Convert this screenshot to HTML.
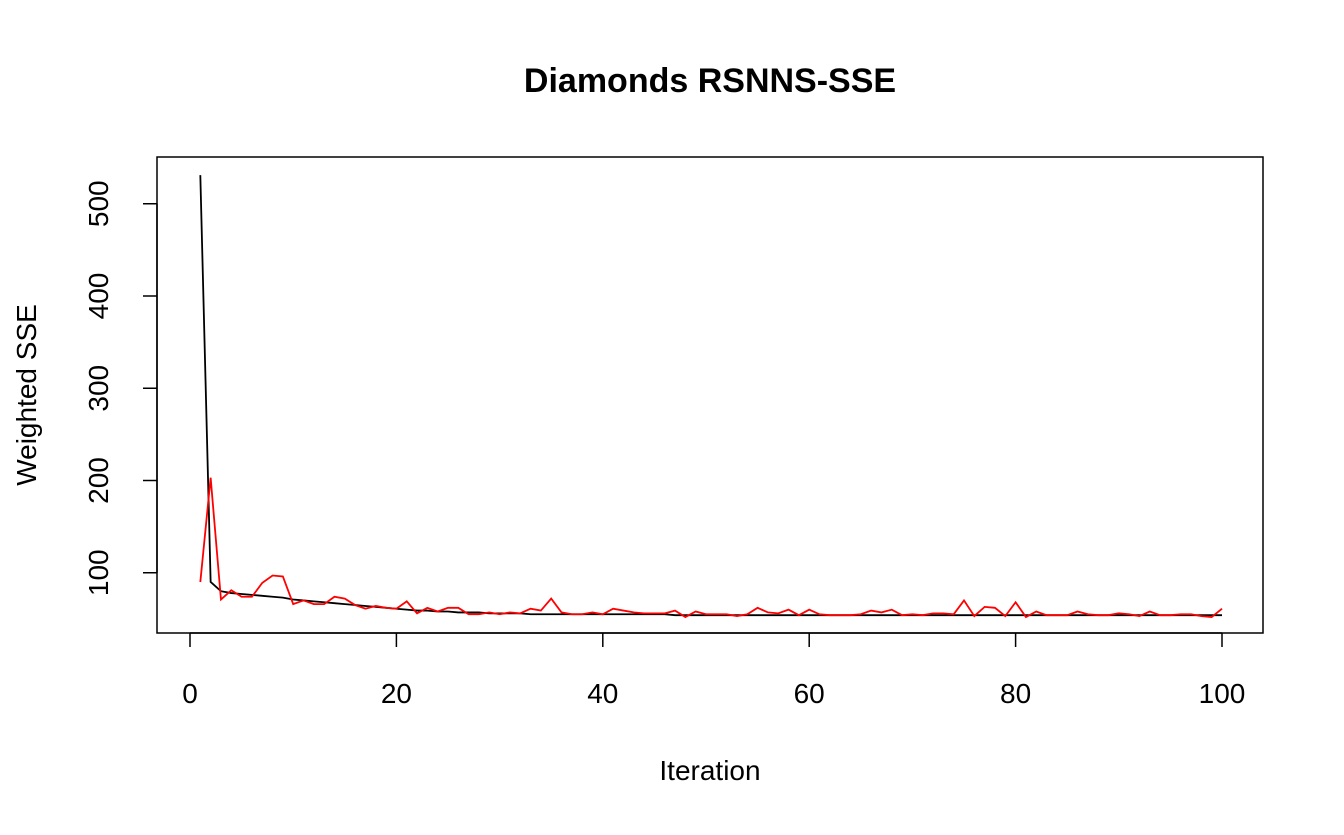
<!DOCTYPE html>
<html><head><meta charset="utf-8"><style>
body{margin:0;background:#fff;}
svg text{font-family:"Liberation Sans",sans-serif;}
</style></head><body>
<svg id="chart" width="1344" height="830" xmlns="http://www.w3.org/2000/svg">
<text x="710" y="92" text-anchor="middle" font-size="34" font-weight="bold">Diamonds RSNNS-SSE</text>
<rect x="157" y="157" width="1106" height="476" fill="none" stroke="#000" stroke-width="1.5"/>
<text x="710" y="780" text-anchor="middle" font-size="28">Iteration</text>
<text transform="translate(36,395) rotate(-90)" text-anchor="middle" font-size="28">Weighted SSE</text>
<g id="axes"></g>
<g id="series"></g>
</svg>
<script>
const xTicks=[0,20,40,60,80,100];
const yTicks=[100,200,300,400,500];
const trainSSE=[531,90,80,78,77,76,75,74,73,71,70,69,68,67,66,65,64,63,62,61,60,59,59,58,58,57,57,57,56,56,56,56,55,55,55,55,55,55,55,55,55,55,55,55,55,55,54,54,54,54,54,54,54,54,54,54,54,54,54,54,54,54,54,54,54,54,54,54,54,54,54,54,54,54,54,54,54,54,54,54,54,54,54,54,54,54,54,54,54,54,54,54,54,54,54,54,54,54,54,54];
const testSSE=[90,203,71,81,74,74,89,97,96,66,70,66,66,74,72,65,61,64,62,61,69,56,62,58,62,62,55,55,57,55,57,56,61,59,72,57,55,55,57,55,61,59,57,56,56,56,59,52,58,55,55,55,53,55,62,57,56,60,54,60,55,54,54,54,55,59,57,60,54,55,54,56,56,55,70,53,63,62,53,68,52,58,54,54,54,58,55,54,54,56,55,53,58,54,54,55,55,53,52,61];
const NS="http://www.w3.org/2000/svg";
const xs=v=>190+v*10.32;
const ys=v=>665-v*0.9225;
const axes=document.getElementById('axes');
function mk(tag,attrs,parent){const e=document.createElementNS(NS,tag);for(const k in attrs)e.setAttribute(k,attrs[k]);parent.appendChild(e);return e;}
let xl=mk('line',{x1:xs(0),x2:xs(100),y1:633,y2:633,stroke:'#000','stroke-width':1.5},axes);


xTicks.forEach(t=>{
 const l=mk('line',{x1:xs(t),x2:xs(t),y1:633,y2:647,stroke:'#000','stroke-width':1.5},axes);
 
 
 const tx=mk('text',{x:xs(t),y:703,'text-anchor':'middle','font-size':28},axes);
 tx.textContent=t;
 
 
});
let yl=mk('line',{x1:157,x2:157,y1:ys(100),y2:ys(500),stroke:'#000','stroke-width':1.5},axes);


yTicks.forEach(t=>{
 const l=mk('line',{x1:143,x2:157,y1:ys(t),y2:ys(t),stroke:'#000','stroke-width':1.5},axes);
 
 
 const tx=mk('text',{transform:`translate(108,${ys(t)}) rotate(-90)`,'text-anchor':'middle','font-size':28},axes);
 tx.textContent=t;
 
 
});
const series=document.getElementById('series');
function line(data,color,name){
 const p=mk('polyline',{points:data.map((v,i)=>xs(i+1)+','+ys(v)).join(' '),fill:'none',stroke:color,'stroke-width':1.8},series);
 
 
}
line(trainSSE,'#000','train-sse-line');
line(testSSE,'#ff0000','test-sse-line');
</script>
</body></html>
